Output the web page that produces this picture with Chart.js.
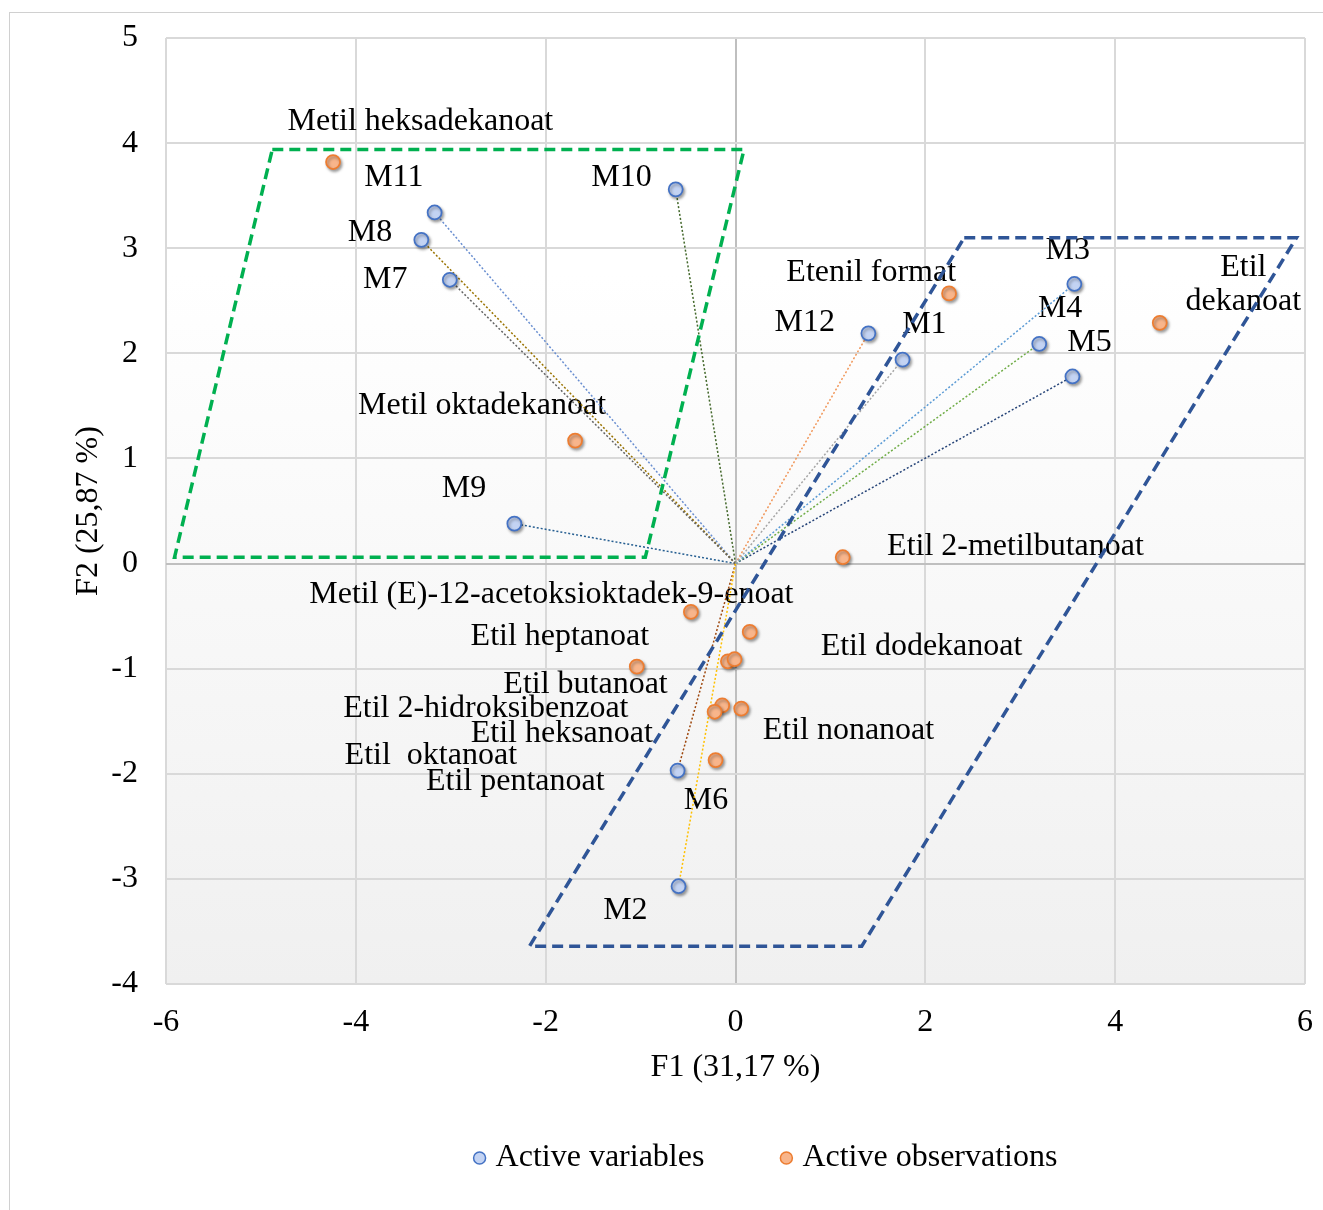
<!DOCTYPE html>
<html>
<head>
<meta charset="utf-8">
<script src="https://cdn.jsdelivr.net/npm/chart.js@4.4.0/dist/chart.umd.min.js"></script>
<style>
  html, body { margin: 0; padding: 0; background: #fff; overflow: hidden; }
  #frame { position: absolute; left: 9px; top: 12px; width: 1400px; height: 1300px; border: 1px solid #d0d0d0; }
  #wrap { position: absolute; left: 0; top: 0; width: 1323px; height: 1210px; }
</style>
</head>
<body>
<div id="frame"></div>
<div id="wrap"><canvas id="chart"></canvas></div>
<script>
// variables (loadings) M1..M12
const variableNames = ['M1', 'M2', 'M3', 'M4', 'M5', 'M6', 'M7', 'M8', 'M9', 'M10', 'M11', 'M12'];
const variableF1 = [1.76, -0.60, 3.57, 3.20, 3.55, -0.61, -3.01, -3.31, -2.33, -0.63, -3.17, 1.40];
const variableF2 = [1.94, -3.07, 2.66, 2.09, 1.78, -1.97, 2.70, 3.08, 0.38, 3.56, 3.34, 2.19];

// observations (compounds)
const observationNames = [
    'Metil heksadekanoat', 'Metil oktadekanoat', 'Etenil format', 'Etil\ndekanoat',
    'Etil 2-metilbutanoat', 'Metil (E)-12-acetoksioktadek-9-enoat', 'Etil heptanoat',
    'Etil dodekanoat', 'Etil butanoat', 'Etil 2-hidroksibenzoat', 'Etil heksanoat',
    'Etil nonanoat', 'Etil  oktanoat', 'Etil pentanoat'
];
const observationF1 = [-4.24, -1.69, 2.25, 4.47, 1.13, -0.47, -1.04, 0.15, -0.08, -0.01, -0.14, 0.06, -0.22, -0.21];
const observationF2 = [3.82, 1.17, 2.57, 2.29, 0.06, -0.46, -0.98, -0.65, -0.93, -0.91, -1.35, -1.38, -1.41, -1.87];

// where the labels sit (moved by hand in the original)
const variableLabelF1 = [1.99, -1.16, 3.50, 3.42, 3.73, -0.31, -3.69, -3.85, -2.86, -1.20, -3.60, 0.73];
const variableLabelF2 = [2.29, -3.28, 3.00, 2.44, 2.12, -2.24, 2.72, 3.17, 0.73, 3.69, 3.69, 2.31];
const observationLabelF1 = [-3.32, -2.67, 1.43, 5.35, 2.95, -1.94, -1.85, 1.96, -1.58, -2.63, -1.83, 1.19, -3.21, -2.32];
const observationLabelF2 = [4.22, 1.52, 2.79, 2.67, 0.18, -0.28, -0.68, -0.77, -1.13, -1.36, -1.60, -1.57, -1.81, -2.06];

// grouping frames
const greenFrameF1 = [-4.88, 0.09, -0.95, -5.91];
const greenFrameF2 = [3.94, 3.94, 0.06, 0.06];
const blueFrameF1 = [2.41, 5.91, 1.33, -2.17];
const blueFrameF2 = [3.10, 3.10, -3.64, -3.64];

const vectorColors = ['#a5a5a5', '#ffc000', '#5b9bd5', '#70ad47', '#264478', '#9e480e',
    '#636363', '#997300', '#255e91', '#43682b', '#698ed0', '#f1975a'];

const FONT = '"Liberation Serif", "Times New Roman", serif';

function toPoints(xs, ys) {
    return xs.map((x, i) => ({x: x, y: ys[i]}));
}
function closed(xs, ys) {
    const pts = toPoints(xs, ys);
    pts.push(pts[0]);
    return pts;
}

const plotBackground = {
    id: 'plotBackground',
    beforeDraw(chart) {
        const {ctx, chartArea: a} = chart;
        const g = ctx.createLinearGradient(0, a.top, 0, a.bottom);
        g.addColorStop(0, '#ffffff');
        g.addColorStop(0.25, '#ffffff');
        g.addColorStop(1, '#f0f0f0');
        ctx.save();
        ctx.fillStyle = g;
        ctx.fillRect(a.left, a.top, a.width, a.height);
        ctx.restore();
    }
};

const pointLabels = {
    id: 'pointLabels',
    beforeDatasetsDraw(chart) {
        const {ctx, scales: {x, y}} = chart;
        ctx.save();
        ctx.font = '32px ' + FONT;
        ctx.fillStyle = '#000';
        ctx.textAlign = 'center';
        ctx.textBaseline = 'middle';
        const draw = (names, lx, ly) => names.forEach((name, i) => {
            const lines = name.split('\n');
            const cx = x.getPixelForValue(lx[i]);
            const cy = y.getPixelForValue(ly[i]) + 2;
            lines.forEach((line, k) => ctx.fillText(line, cx, cy + (k - (lines.length - 1) / 2) * 34));
        });
        draw(variableNames, variableLabelF1, variableLabelF2);
        draw(observationNames, observationLabelF1, observationLabelF2);
        ctx.restore();
    }
};

const markerShadow = {
    id: 'markerShadow',
    beforeDatasetDraw(chart, args) {
        if (!chart.data.datasets[args.index].inLegend) return;
        const ctx = chart.ctx;
        ctx.save();
        ctx.shadowColor = 'rgba(0,0,0,0.35)';
        ctx.shadowBlur = 3;
        ctx.shadowOffsetX = 1.5;
        ctx.shadowOffsetY = 2;
    },
    afterDatasetDraw(chart, args) {
        if (chart.data.datasets[args.index].inLegend) chart.ctx.restore();
    }
};

const bottomLegend = {
    id: 'bottomLegend',
    afterDraw(chart) {
        const ctx = chart.ctx;
        const items = chart.data.datasets.filter(d => d.inLegend);
        const r = 6, textGap = 16, itemGap = 76, centerX = 765.5, y = 1158;
        ctx.save();
        ctx.font = '32px ' + FONT;
        const widths = items.map(d => r + textGap + ctx.measureText(d.label).width);
        const total = widths.reduce((a, b) => a + b, 0) + itemGap * (items.length - 1);
        let left = centerX - total / 2;
        items.forEach((d, i) => {
            const cx = left + r;
            ctx.beginPath();
            ctx.arc(cx, y, r, 0, Math.PI * 2);
            ctx.fillStyle = d.pointBackgroundColor;
            ctx.fill();
            ctx.lineWidth = 1.5;
            ctx.strokeStyle = d.pointBorderColor;
            ctx.stroke();
            ctx.fillStyle = '#000';
            ctx.textAlign = 'left';
            ctx.textBaseline = 'middle';
            ctx.fillText(d.label, cx + textGap, y);
            left += widths[i] + itemGap;
        });
        ctx.restore();
    }
};

const datasets = [];

variableNames.forEach((name, i) => {
    datasets.push({
        label: name,
        data: [{x: 0, y: 0}, {x: variableF1[i], y: variableF2[i]}],
        showLine: true,
        borderColor: vectorColors[i],
        borderWidth: 1.5,
        borderDash: [2, 2],
        pointRadius: 0,
        order: 3
    });
});

datasets.push({
    label: 'frame1',
    data: closed(greenFrameF1, greenFrameF2),
    showLine: true,
    borderColor: '#00b050',
    borderWidth: 3.5,
    borderDash: [11, 6],
    pointRadius: 0,
    order: 2
});
datasets.push({
    label: 'frame2',
    data: closed(blueFrameF1, blueFrameF2),
    showLine: true,
    borderColor: '#2f5597',
    borderWidth: 3.5,
    borderDash: [11, 6],
    pointRadius: 0,
    order: 2
});

datasets.push({
    label: 'Active variables',
    data: toPoints(variableF1, variableF2),
    pointRadius: 7,
    pointBorderWidth: 1.75,
    pointBackgroundColor: '#c3d3f3',
    pointBorderColor: '#4472c4',
    inLegend: true,
    order: 0
});
datasets.push({
    label: 'Active observations',
    data: toPoints(observationF1, observationF2),
    pointRadius: 7,
    pointBorderWidth: 1.75,
    pointBackgroundColor: '#f8b58b',
    pointBorderColor: '#ed7d31',
    inLegend: true,
    order: 1
});

const gridColor = ctx => ctx.tick && ctx.tick.value === 0 ? '#bfbfbf' : '#d9d9d9';

new Chart(document.getElementById('chart'), {
    type: 'scatter',
    data: {datasets: datasets},
    options: {
        responsive: true,
        maintainAspectRatio: false,
        animation: false,
        events: [],
        layout: {autoPadding: false, padding: {top: 38, right: 18, bottom: 123, left: 0}},
        scales: {
            x: {
                type: 'linear',
                min: -6,
                max: 6,
                // label gap done with invisible tick marks so the layout does not grow
                ticks: {stepSize: 2, color: '#000', font: {family: FONT, size: 32}, padding: 0, maxRotation: 0},
                grid: {color: gridColor, lineWidth: 2, drawTicks: true, tickLength: 19, tickColor: 'rgba(0,0,0,0)'},
                border: {display: false},
                title: {display: true, text: 'F1 (31,17 %)', color: '#000', font: {family: FONT, size: 32}, padding: {top: 0, bottom: 0}},
                afterFit(scale) { scale.height = 103; }
            },
            y: {
                type: 'linear',
                min: -4,
                max: 5,
                ticks: {stepSize: 1, color: '#000', font: {family: FONT, size: 32}, padding: 0},
                grid: {color: gridColor, lineWidth: 2, drawTicks: true, tickLength: 28, tickColor: 'rgba(0,0,0,0)'},
                border: {display: false},
                title: {display: true, text: 'F2 (25,87 %)', color: '#000', font: {family: FONT, size: 32}, padding: {top: 69, bottom: 0}},
                afterFit(scale) { scale.width = 166; }
            }
        },
        plugins: {
            legend: {display: false},
            tooltip: {enabled: false}
        }
    },
    plugins: [plotBackground, pointLabels, markerShadow, bottomLegend]
});
</script>
</body>
</html>
